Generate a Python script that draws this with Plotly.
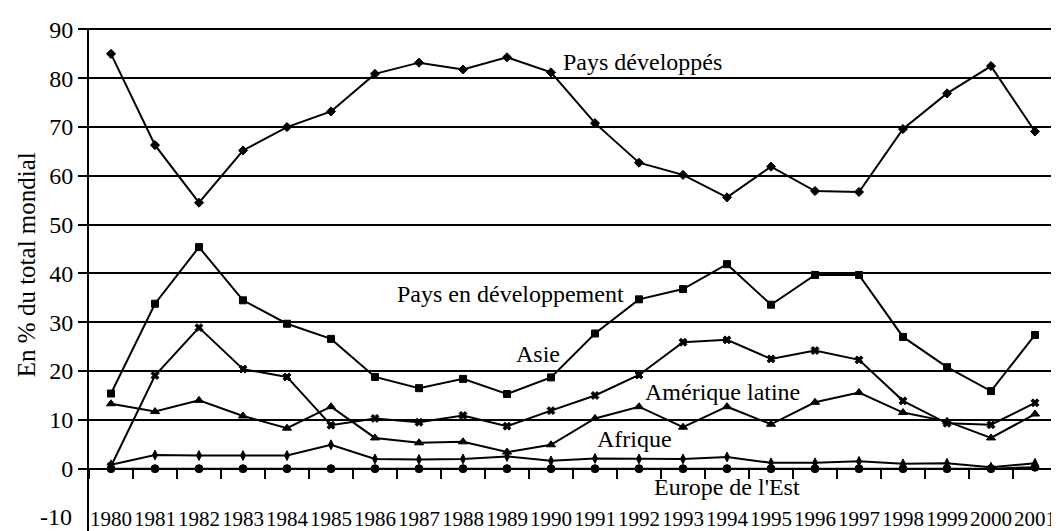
import plotly.graph_objects as go

years = ["1980", "1981", "1982", "1983", "1984", "1985", "1986", "1987", "1988", "1989", "1990",
         "1991", "1992", "1993", "1994", "1995", "1996", "1997", "1998", "1999", "2000", "2001"]

pays_developpes = [85.0, 66.3, 54.5, 65.2, 70.0, 73.2, 80.9, 83.2, 81.8, 84.3, 81.2,
                   70.8, 62.7, 60.2, 55.6, 61.9, 56.9, 56.7, 69.6, 76.9, 82.5, 69.1]
pays_en_dev = [15.4, 33.8, 45.4, 34.5, 29.7, 26.6, 18.8, 16.5, 18.4, 15.3, 18.7,
               27.7, 34.7, 36.8, 41.9, 33.6, 39.7, 39.7, 27.0, 20.8, 15.9, 27.4]
asie = [0.5, 19.1, 28.9, 20.4, 18.8, 8.9, 10.3, 9.5, 10.9, 8.7, 11.9,
        15.0, 19.2, 25.9, 26.4, 22.5, 24.2, 22.3, 13.9, 9.3, 9.0, 13.5]
amerique_latine = [13.3, 11.7, 14.0, 10.8, 8.3, 12.7, 6.3, 5.3, 5.5, 3.4, 4.9,
                   10.3, 12.7, 8.5, 12.7, 9.1, 13.6, 15.6, 11.5, 9.7, 6.3, 11.2]
afrique = [0.8, 2.8, 2.7, 2.7, 2.7, 4.9, 2.0, 1.9, 2.0, 2.5, 1.6,
           2.1, 2.0, 2.0, 2.4, 1.2, 1.2, 1.5, 1.0, 1.1, 0.3, 1.1]
europe_est = [0.0, 0.0, 0.0, 0.0, 0.0, 0.0, 0.0, 0.0, 0.0, 0.0, 0.0,
              0.0, 0.0, 0.0, 0.0, 0.0, 0.0, 0.0, 0.0, 0.0, 0.0, 0.3]

y_ticks = [0, 10, 20, 30, 40, 50, 60, 70, 80, 90]
y_min, y_max = -12.77, 90.3

FONT = "Liberation Serif, Times New Roman, DejaVu Serif, serif"

series = [
    ("Pays développés", pays_developpes, "diamond", 7),
    ("Pays en développement", pays_en_dev, "square", 7),
    ("Asie", asie, "x", 7),
    ("Amérique latine", amerique_latine, "triangle-up", 8),
    ("Afrique", afrique, "diamond-tall", 7),
    ("Europe de l'Est", europe_est, "circle", 8),
]

fig = go.Figure()
for name, vals, sym, sz in series:
    fig.add_trace(go.Scatter(
        x=years, y=vals, name=name, mode="lines+markers",
        line=dict(color="black", width=2),
        marker=dict(symbol=sym, size=sz, color="black", line=dict(color="black", width=1)),
        showlegend=False,
    ))

labels = [
    ("Pays développés", 12.08, 83.4),
    ("Pays en développement", 9.07, 35.8),
    ("Asie", 9.7, 23.6),
    ("Amérique latine", 13.9, 15.8),
    ("Afrique", 11.89, 6.0),
    ("Europe de l'Est", 14.0, -3.8),
]
for text, xi, yv in labels:
    fig.add_annotation(x=xi, y=yv, xref="x", yref="y", text=text, showarrow=False,
                       font=dict(family=FONT, size=24, color="black"))

# "-10" label on the y axis (no grid line there)
fig.add_annotation(x=0, y=-10, xref="paper", yref="y", text="-10", showarrow=False,
                   xanchor="right", xshift=-15, font=dict(family=FONT, size=24, color="black"))
# y axis title
fig.add_annotation(x=0, y=41.8, xref="paper", yref="y", text="En % du total mondial",
                   showarrow=False, textangle=-90, xshift=-78,
                   font=dict(family=FONT, size=25, color="black"))

# right border
fig.add_shape(type="line", xref="paper", yref="y", x0=1, x1=1, y0=0, y1=90,
              line=dict(color="black", width=2))

zero_pos = (0 - y_min) / (y_max - y_min)

# the page body adds an 8px offset; figure is sized so that the plot lands where the reference has it
fig.update_layout(
    width=1051, height=523,
    margin=dict(l=81, r=2, t=20, b=0, autoexpand=False),
    paper_bgcolor="white", plot_bgcolor="white",
    font=dict(family=FONT, color="black"),
    xaxis=dict(
        type="category", range=[-0.5, 21.5],
        anchor="free", position=zero_pos, automargin=False,
        showline=True, linecolor="black", linewidth=2,
        ticks="outside", ticklen=9, tickwidth=2, tickcolor="black",
        tickson="boundaries", tickangle=0,
        ticklabelstandoff=31,
        tickfont=dict(family=FONT, size=21, color="black"),
        showgrid=False, zeroline=False,
    ),
    yaxis=dict(
        range=[y_min, y_max], tickvals=y_ticks, automargin=False,
        showline=True, linecolor="black", linewidth=2,
        ticks="outside", ticklen=9, tickwidth=2, tickcolor="black",
        showgrid=True, gridcolor="black", gridwidth=2,
        zeroline=False,
        tickfont=dict(family=FONT, size=24, color="black"),
    ),
)

fig.write_html("out.html")
